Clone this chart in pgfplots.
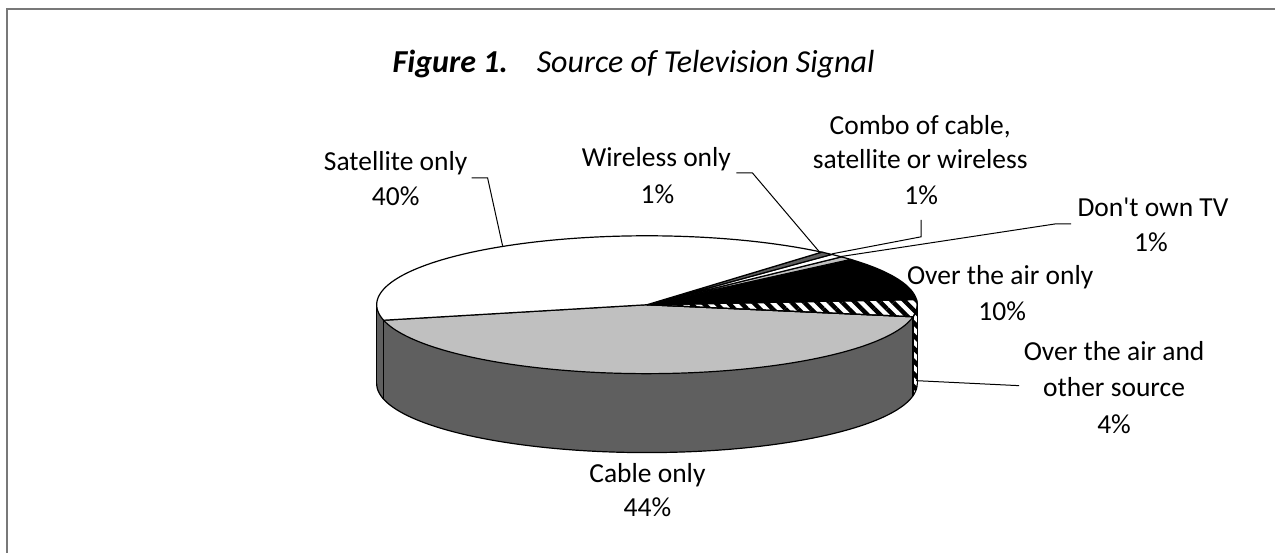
\documentclass[border=0pt]{standalone}
\usepackage{fontspec}
\setmainfont{Carlito}[Ligatures=TeXOff]
\usepackage{pgfplots}
\pgfplotsset{compat=1.18}
\usepgfplotslibrary{fillbetween}
\usetikzlibrary{patterns.meta}
\definecolor{topgray}{RGB}{192,192,192}
\definecolor{sidegray}{RGB}{95,95,95}
\definecolor{framegray}{RGB}{120,120,120}

% data (percent of respondents)
\def\vCable{43.6}
\def\vOAO{4.0}
\def\vOTA{10.2}
\def\vNoTV{0.8}
\def\vCombo{0.8}
\def\vWire{0.8}
\def\vSat{39.8}
% geometry in pixel units
\def\cx{647.5}\def\cy{-305}\def\ra{270.5}\def\rb{69}\def\dep{79}
\def\start{193}

\newcommand\lbl[3]{\node[anchor=base,font=\fontsize{13.75}{16}\selectfont] at (axis cs:#1,-#2) {#3};}

\begin{document}
\begin{tikzpicture}
\pgfmathsetmacro\aA{\start}
\pgfmathsetmacro\aB{\aA+3.6*\vCable}
\pgfmathsetmacro\aC{\aB+3.6*\vOAO}
\pgfmathsetmacro\aD{\aC+3.6*\vOTA}
\pgfmathsetmacro\aE{\aD+3.6*\vNoTV}
\pgfmathsetmacro\aF{\aE+3.6*\vCombo}
\pgfmathsetmacro\aG{\aF+3.6*\vWire}
\pgfmathsetmacro\aH{\aG+3.6*\vSat}
\pgfmathsetmacro\xA{\cx+\ra*cos(\aA)}
\pgfmathsetmacro\yA{\cy+\rb*sin(\aA)}
\pgfmathsetmacro\yAb{\yA-\dep}
\pgfmathsetmacro\xB{\cx+\ra*cos(\aB)}
\pgfmathsetmacro\yB{\cy+\rb*sin(\aB)}
\pgfmathsetmacro\yBb{\yB-\dep}
\pgfmathsetmacro\xL{\cx-\ra}
\pgfmathsetmacro\xR{\cx+\ra}
\pgfmathsetmacro\yCb{\cy-\dep}
\begin{axis}[scale only axis, width=638pt, height=276.5pt,
  xmin=0, xmax=1276, ymin=-553, ymax=0, hide axis, clip=false, samples=90]
\addplot[draw=none] coordinates {(0,0) (1276,-553)};
% frame
\addplot[framegray, line width=1.1pt] coordinates {(7,-553) (7,-9) (1276,-9)};
% side wall
\addplot[name path=tf, draw=none, domain=180:360] ({\cx+\ra*cos(x)},{\cy+\rb*sin(x)});
\addplot[name path=bf, draw=none, domain=180:360] ({\cx+\ra*cos(x)},{\cy-\dep+\rb*sin(x)});
\addplot[fill=sidegray] fill between[of=tf and bf];
\addplot[fill=white, postaction={pattern={Lines[angle=-45,distance=4.5pt,line width=2.2pt]}, pattern color=black}] fill between[of=tf and bf, soft clip={domain=\xB:1000}];
\addplot[black, line width=0.6pt, domain=180:360] ({\cx+\ra*cos(x)},{\cy-\dep+\rb*sin(x)});
\addplot[black, line width=0.6pt] coordinates {(\xL,\cy) (\xL,\yCb)};
\addplot[black, line width=0.6pt] coordinates {(\xR,\cy) (\xR,\yCb)};
\addplot[black, line width=0.6pt] coordinates {(\xA,\yA) (\xA,\yAb)};
\addplot[black, line width=0.6pt] coordinates {(\xB,\yB) (\xB,\yBb)};
% top wedges
\addplot[fill=topgray, draw=black, line width=0.6pt, domain=\aA:\aB] ({\cx+\ra*cos(x)},{\cy+\rb*sin(x)}) -- (axis cs:\cx,\cy) -- cycle;
\addplot[fill=white, postaction={pattern={Lines[angle=-45,distance=4.5pt,line width=2.2pt]}, pattern color=black}, draw=black, line width=0.6pt, domain=\aB:\aC] ({\cx+\ra*cos(x)},{\cy+\rb*sin(x)}) -- (axis cs:\cx,\cy) -- cycle;
\addplot[fill=black, draw=black, line width=0.6pt, domain=\aC:\aD] ({\cx+\ra*cos(x)},{\cy+\rb*sin(x)}) -- (axis cs:\cx,\cy) -- cycle;
\addplot[fill=topgray, draw=black, line width=0.6pt, domain=\aD:\aE] ({\cx+\ra*cos(x)},{\cy+\rb*sin(x)}) -- (axis cs:\cx,\cy) -- cycle;
\addplot[fill=white, draw=black, line width=0.6pt, domain=\aE:\aF] ({\cx+\ra*cos(x)},{\cy+\rb*sin(x)}) -- (axis cs:\cx,\cy) -- cycle;
\addplot[fill=sidegray, draw=black, line width=0.6pt, domain=\aF:\aG] ({\cx+\ra*cos(x)},{\cy+\rb*sin(x)}) -- (axis cs:\cx,\cy) -- cycle;
\addplot[fill=white, draw=black, line width=0.6pt, domain=\aG:\aH] ({\cx+\ra*cos(x)},{\cy+\rb*sin(x)}) -- (axis cs:\cx,\cy) -- cycle;
% leader lines
\addplot[black, line width=0.5pt] coordinates {(503,-246) (488,-178) (472,-178)};
\addplot[black, line width=0.5pt] coordinates {(820,-252) (753,-173) (737,-173)};
\addplot[black, line width=0.5pt] coordinates {(833,-254) (922,-237) (922,-220)};
\addplot[black, line width=0.5pt] coordinates {(840,-257) (1057,-224) (1072,-224)};
\addplot[black, line width=0.5pt] coordinates {(917,-381) (1020,-386)};
% title
\node[anchor=base west, font=\fontsize{16}{19}\selectfont\itshape] at (axis cs:386,-73) {\textbf{Figure 1.}\hspace{0.6em} Source of Television Signal};
% labels
\lbl{396}{171}{Satellite only}
\lbl{396}{206}{40\%}
\lbl{657}{167}{Wireless only}
\lbl{658}{204}{1\%}
\lbl{921}{135}{Combo of cable,}
\lbl{921}{169}{satellite or wireless}
\lbl{922}{205}{1\%}
\lbl{1154}{217}{Don't own TV}
\lbl{1152}{252}{1\%}
\lbl{1001}{285}{Over the air only}
\lbl{1003}{321}{10\%}
\lbl{1115}{361}{Over the air and}
\lbl{1115}{397}{other source}
\lbl{1115}{434}{4\%}
\lbl{648}{483}{Cable only}
\lbl{648}{517}{44\%}
\end{axis}
\end{tikzpicture}
\end{document}
